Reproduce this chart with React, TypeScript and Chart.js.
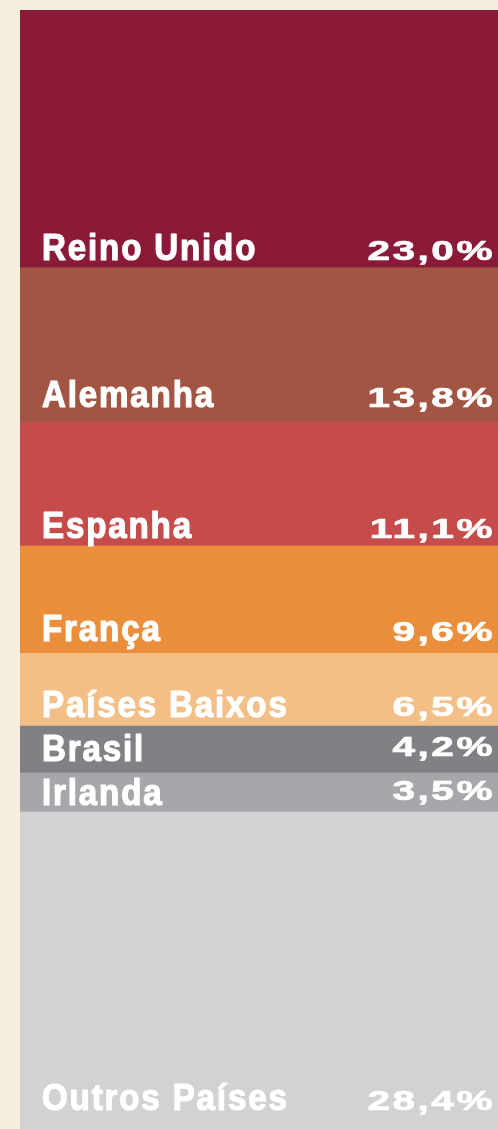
import React, { useEffect, useRef } from "react";
import { Chart, registerables } from "chart.js";

Chart.register(...registerables);

const countries = [
  "Reino Unido",
  "Alemanha",
  "Espanha",
  "França",
  "Países Baixos",
  "Brasil",
  "Irlanda",
  "Outros Países",
];
const shares = [23.0, 13.8, 11.1, 9.6, 6.5, 4.2, 3.5, 28.4];
const shareLabels = ["23,0%", "13,8%", "11,1%", "9,6%", "6,5%", "4,2%", "3,5%", "28,4%"];
const colors = [
  "#8a1a37",
  "#a35544",
  "#c54c4a",
  "#ea8e3c",
  "#f4be87",
  "#808185",
  "#a6a7aa",
  "#d1d2d4",
];

// styling: how far above each segment's bottom edge the texts sit (px)
const nameLift = [7, 14, 7, 12, 8, 11, 7, 19];
const pctLift = [7, 14, 7, 12, 9, 16, 12, 19];

const labelPlugin = {
  id: "segmentLabels",
  afterDatasetsDraw(chart: any) {
    const ctx = chart.ctx as CanvasRenderingContext2D;
    const area = chart.chartArea;
    chart.data.datasets.forEach((ds: any, i: number) => {
      const meta = chart.getDatasetMeta(i);
      const el: any = meta.data[0];
      if (!el) return;
      const bottom = Math.max(el.y, el.base);
      ctx.save();
      ctx.fillStyle = "#ffffff";
      ctx.strokeStyle = "#ffffff";
      ctx.lineJoin = "round";
      ctx.textBaseline = "alphabetic";
      // country name (condensed bold)
      ctx.save();
      ctx.font = 'bold 36px "Liberation Sans", Arial, sans-serif';
      (ctx as any).letterSpacing = "2px";
      ctx.textAlign = "left";
      ctx.translate(area.left + 22, bottom - nameLift[i]);
      ctx.scale(0.92, 1);
      ctx.lineWidth = 1.2;
      ctx.fillText(countries[i], 0, 0);
      ctx.strokeText(countries[i], 0, 0);
      ctx.restore();
      // percentage (extended bold)
      ctx.font = 'bold 27px "Liberation Sans", Arial, sans-serif';
      (ctx as any).letterSpacing = "1.7px";
      ctx.textAlign = "right";
      ctx.translate(area.right - 3, bottom - pctLift[i]);
      ctx.scale(1.5, 1);
      ctx.lineWidth = 0.7;
      ctx.fillText(shareLabels[i], 0, 0);
      ctx.strokeText(shareLabels[i], 0, 0);
      ctx.restore();
    });
  },
};

export default function App() {
  const ref = useRef<HTMLCanvasElement>(null);
  useEffect(() => {
    document.body.style.margin = "0";
    document.body.style.background = "#f6efdf";
    const total = shares.reduce((a, b) => a + b, 0);
    const chart = new Chart(ref.current!, {
      type: "bar",
      data: {
        labels: ["Exportações"],
        datasets: countries.map((c, i) => ({
          label: c,
          data: [shares[i]],
          backgroundColor: colors[i],
          borderWidth: 0,
          stack: "s",
          barPercentage: 1,
          categoryPercentage: 1,
        })),
      },
      options: {
        animation: false,
        responsive: false,
        maintainAspectRatio: false,
        layout: { padding: { top: 10, left: 20, right: 0, bottom: 0 } },
        plugins: { legend: { display: false }, tooltip: { enabled: false } },
        scales: {
          x: { display: false, stacked: true },
          y: {
            display: false,
            stacked: true,
            reverse: true,
            min: 0,
            max: total,
          },
        },
      },
      plugins: [labelPlugin],
    });
    return () => chart.destroy();
  }, []);
  return (
    <div style={{ width: 498, height: 1129, background: "#f6efdf" }}>
      <canvas ref={ref} width={498} height={1129} style={{ display: "block" }} />
    </div>
  );
}
